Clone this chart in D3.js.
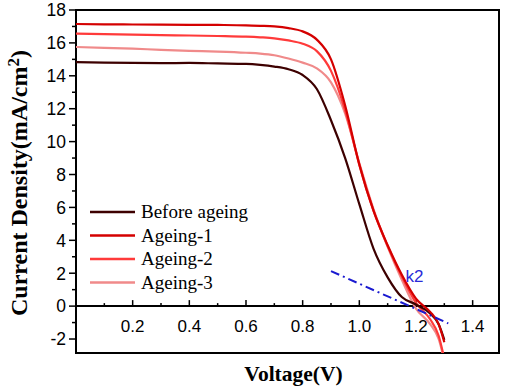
<!DOCTYPE html>
<html>
<head>
<meta charset="utf-8">
<script src="https://cdn.jsdelivr.net/npm/d3@7"></script>
<style>
  body { margin: 0; background: #fff; }
  svg { display: block; }
</style>
</head>
<body>
<svg id="chart" width="505" height="387"></svg>
<script>
// ---- data ----
const seriesNames = ["Before ageing", "Ageing-1", "Ageing-2", "Ageing-3"];
const seriesColors = ["#3d0000", "#d40000", "#ff3a3a", "#f08a8a"];

const voltage = [0, 0.1, 0.2, 0.3, 0.4, 0.5, 0.6, 0.65, 0.7, 0.75, 0.8, 0.85, 0.9, 0.95, 1.0, 1.05, 1.1, 1.15, 1.2, 1.25, 1.28, 1.3];

const beforeAgeing = [14.83, 14.8, 14.78, 14.77, 14.78, 14.75, 14.72, 14.66, 14.56, 14.4, 14.05, 13.2, 11.3, 9.0, 6.2, 3.5, 1.75, 0.55, 0.1, -0.45, -1.1, -2.05];
const ageing1 = [17.15, 17.13, 17.12, 17.11, 17.1, 17.09, 17.07, 17.04, 17.0, 16.9, 16.7, 16.2, 15.0, 12.2, 8.6, 5.8, 3.7, 1.9, 0.45, -0.35, -1.1, -2.2];
const ageing2 = [16.56, 16.53, 16.5, 16.47, 16.45, 16.42, 16.38, 16.34, 16.28, 16.15, 15.95, 15.5, 14.3, 11.9, 8.6, 5.8, 3.65, 1.8, 0.2, -0.8, -1.8, -3.2];
const ageing3 = [15.75, 15.7, 15.65, 15.58, 15.52, 15.47, 15.4, 15.35, 15.25, 15.05, 14.8, 14.45, 13.6, 11.7, 8.7, 5.9, 3.6, 1.6, -0.15, -1.1, -2.0, -3.3];

const seriesValues = [beforeAgeing, ageing1, ageing2, ageing3];

const xTickLabels = [0.2, 0.4, 0.6, 0.8, 1.0, 1.2, 1.4];
const yTickLabels = [-2, 0, 2, 4, 6, 8, 10, 12, 14, 16, 18];

// k2 tangent line (dash-dot)
const k2Line = [[0.9, 2.13], [1.314, -1.05]];
const k2Label = { v: 1.195, j: 1.45, text: "k2" };

// ---- layout ----
const svg = d3.select("#chart");
const m = { left: 76, right: 499, top: 10, bottom: 353 };

const x = d3.scaleLinear().domain([0, 1.493]).range([m.left, m.right]);
const y = d3.scaleLinear().domain([-2.85, 18]).range([m.bottom, m.top]);

svg.append("defs").append("clipPath").attr("id", "clip")
  .append("rect").attr("x", m.left).attr("y", m.top)
  .attr("width", m.right - m.left).attr("height", m.bottom - m.top);

// frame
svg.append("rect")
  .attr("x", m.left).attr("y", m.top)
  .attr("width", m.right - m.left).attr("height", m.bottom - m.top)
  .attr("fill", "none").attr("stroke", "#000").attr("stroke-width", 2);

// y axis (left)
const yMinor = d3.range(-2, 19, 1);
svg.append("g").selectAll("line").data(yMinor).join("line")
  .attr("x1", m.left).attr("x2", d => m.left - (d % 2 === 0 ? 7 : 4))
  .attr("y1", d => y(d)).attr("y2", d => y(d))
  .attr("stroke", "#000").attr("stroke-width", 1.5);

svg.append("g").selectAll("text").data(yTickLabels).join("text")
  .attr("x", m.left - 10).attr("y", d => y(d))
  .attr("dy", "0.36em")
  .attr("text-anchor", "end")
  .attr("font-family", "Liberation Sans, Arial, sans-serif")
  .attr("font-size", 17.5)
  .attr("fill", "#000")
  .text(d => d);

// x axis at zero line
svg.append("line")
  .attr("x1", m.left).attr("x2", m.right)
  .attr("y1", y(0)).attr("y2", y(0))
  .attr("stroke", "#000").attr("stroke-width", 2);

const xMinor = d3.range(1, 15, 1).map(d => d / 10);
svg.append("g").selectAll("line").data(xMinor).join("line")
  .attr("x1", d => x(d)).attr("x2", d => x(d))
  .attr("y1", y(0)).attr("y2", (d, i) => y(0) - ((i + 1) % 2 === 0 ? 6 : 3))
  .attr("stroke", "#000").attr("stroke-width", 1.5);

svg.append("g").selectAll("text").data(xTickLabels).join("text")
  .attr("x", d => x(d)).attr("y", y(0) + 20)
  .attr("dy", "0.36em")
  .attr("text-anchor", "middle")
  .attr("font-family", "Liberation Sans, Arial, sans-serif")
  .attr("font-size", 17)
  .attr("fill", "#000")
  .text(d => d3.format(".1f")(d));

// curves
const line = d3.line()
  .x(d => x(d[0])).y(d => y(d[1]))
  .curve(d3.curveMonotoneX);

const plot = svg.append("g").attr("clip-path", "url(#clip)");

const drawOrder = [3, 2, 0, 1];
drawOrder.forEach(i => {
  const pts = voltage.map((v, k) => [v, seriesValues[i][k]]);
  plot.append("path")
    .attr("d", line(pts))
    .attr("fill", "none")
    .attr("stroke", seriesColors[i])
    .attr("stroke-width", 2.2);
});

// k2 dash-dot line
plot.append("path")
  .attr("d", d3.line().x(d => x(d[0])).y(d => y(d[1]))(k2Line))
  .attr("fill", "none")
  .attr("stroke", "#1a1ad0")
  .attr("stroke-width", 2)
  .attr("stroke-dasharray", "9,4,2,4");

svg.append("text")
  .attr("x", x(k2Label.v)).attr("y", y(k2Label.j))
  .attr("text-anchor", "middle")
  .attr("font-family", "Liberation Sans, Arial, sans-serif")
  .attr("font-size", 17)
  .attr("fill", "#2a2ad8")
  .text(k2Label.text);

// legend
const leg = svg.append("g");
seriesNames.forEach((name, i) => {
  const yy = 212 + i * 23.5;
  leg.append("line")
    .attr("x1", 90).attr("x2", 135)
    .attr("y1", yy).attr("y2", yy)
    .attr("stroke", seriesColors[i]).attr("stroke-width", 2.5);
  leg.append("text")
    .attr("x", 141).attr("y", yy)
    .attr("dy", "0.33em")
    .attr("font-family", "Liberation Serif, Times New Roman, serif")
    .attr("font-size", 19)
    .attr("fill", "#000")
    .text(name);
});

// axis titles
svg.append("text")
  .attr("x", (m.left + m.right) / 2 + 6).attr("y", 381)
  .attr("text-anchor", "middle")
  .attr("font-family", "Liberation Serif, Times New Roman, serif")
  .attr("font-weight", "bold")
  .attr("font-size", 21.5)
  .attr("fill", "#000")
  .text("Voltage(V)");

const yt = svg.append("text")
  .attr("transform", "translate(27,183) rotate(-90)")
  .attr("text-anchor", "middle")
  .attr("font-family", "Liberation Serif, Times New Roman, serif")
  .attr("font-weight", "bold")
  .attr("font-size", 24)
  .attr("fill", "#000");
yt.append("tspan").text("Current Density(mA/cm");
yt.append("tspan").attr("dy", "-0.45em").attr("font-size", 17).text("2");
yt.append("tspan").attr("dy", "0.32em").text(")");
</script>
</body>
</html>
